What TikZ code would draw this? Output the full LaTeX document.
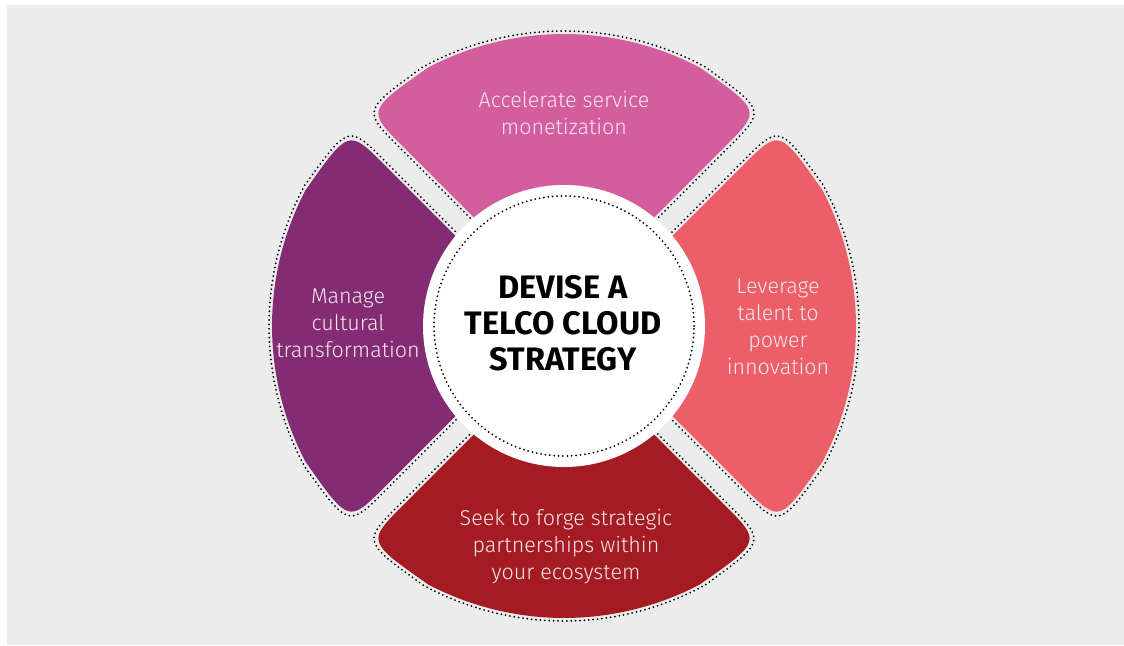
\documentclass[tikz,border=0pt]{standalone}
\usepackage{fontspec}
\setmainfont{Fira Sans}
\newfontfamily\petalfont{Fira Sans Light}
\usetikzlibrary{calc}

\definecolor{bggray}{HTML}{ECECEC}
\definecolor{telcoPink}{HTML}{D45D9E}
\definecolor{telcoPurple}{HTML}{832C73}
\definecolor{telcoCoral}{HTML}{EC5F69}
\definecolor{telcoRed}{HTML}{A51B22}
\definecolor{petalText}{HTML}{F6E6EE}

\begin{document}
\begin{tikzpicture}[x=1pt, y=1pt,
 every node/.style = {inner sep=0pt, align=center},
 petal text/.style = {text=petalText, font=\petalfont\fontsize{21.5}{27}\selectfont},
 hub text/.style = {text=black, font=\bfseries\fontsize{32.5}{36}\selectfont},
 petal dots/.style = {draw=black, line width=2pt, dash pattern=on 0pt off 4.4pt, line cap=round}]
 \useasboundingbox (0,0) rectangle (1124,645);
 \fill[white] (0,0) rectangle (1124,645);
 \fill[bggray] (7,0) rectangle (1124,640);
 % the four petals
 \foreach \ang/\col in {90/telcoPink, 180/telcoPurple, 0/telcoCoral, 270/telcoRed} {
 \begin{scope}[shift={(564,319)}, rotate=\ang-90]
 \fill[\col] ($(45:100)+(135:13)$) -- ($(45:241.7)+(135:13)$)
 .. controls ($(45:291.7)+(135:13)$) .. (62.3:292)
 arc[start angle=62.3, end angle=117.7, radius=292]
 .. controls ($(135:291.7)+(45:13)$) .. ($(135:241.7)+(45:13)$)
 -- ($(135:100)+(45:13)$) -- cycle;
 \path[petal dots] ($(45:100)+(135:10)$) -- ($(45:244.8)+(135:10)$)
 .. controls ($(45:294.8)+(135:10)$) .. (61.5:295)
 arc[start angle=61.5, end angle=118.5, radius=295]
 .. controls ($(135:294.8)+(45:10)$) .. ($(135:244.8)+(45:10)$)
 -- ($(135:100)+(45:10)$);
 \end{scope}
 }
 % centre disc
 \fill[white] (564,319) circle[radius=141];
 \path[petal dots] (564,319) circle[radius=130];
 \node[hub text] (strategy) at (563,322) {DEVISE A\\TELCO CLOUD\\STRATEGY};
 \node[petal text] (monetize) at (564,532) {Accelerate service\\monetization};
 \node[petal text] (culture) at (348,322) {Manage\\cultural\\transformation};
 \node[petal text] (talent) at (778,318) {Leverage\\talent to\\power\\innovation};
 \node[petal text] (partner) at (566,98) {Seek to forge strategic\\partnerships within\\your ecosystem};
\end{tikzpicture}
\end{document}
